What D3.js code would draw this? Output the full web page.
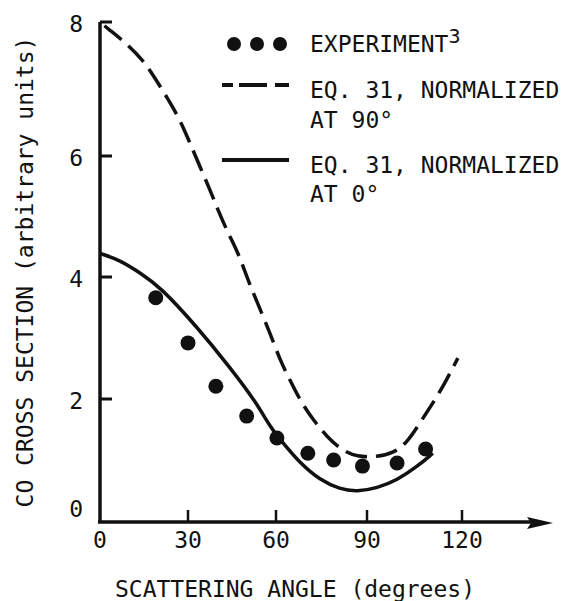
<!DOCTYPE html>
<html>
<head>
<meta charset="utf-8">
<script src="https://cdn.jsdelivr.net/npm/d3@7"></script>
<style>
    body { margin: 0; background: #fff; }
    text { font-family: "DejaVu Sans Mono", monospace; fill: #111; }
</style>
</head>
<body>
<div id="chart"></div>
<script>
// values
const xTicks = [0, 30, 60, 90, 120];
const yTicks = [0, 2, 4, 6, 8];

const experimentAngle = [19, 30, 39.5, 50, 60.3, 70.5, 79, 88.5, 99.5, 108.5];
const experimentValue = [3.66, 2.92, 2.21, 1.72, 1.36, 1.11, 1.0, 0.9, 0.95, 1.18];

// Eq. 31, normalized at 90 degrees
const norm90Angle = [0, 2.4, 8.5, 14.7, 18.8, 22.9, 27.3, 30.7, 34.1, 37.5, 40.2, 43.6, 47.1, 50.1, 51.8,
    58.0, 61.3, 64.6, 67.9, 72.2, 76.8, 81.7, 86.7, 93.2, 98.2, 102.6, 106.7, 110.8, 114.6, 118.7];
const norm90Value = [8.0, 7.91, 7.70, 7.43, 7.16, 6.87, 6.54, 6.19, 5.82, 5.44, 5.11, 4.73, 4.40, 4.0, 3.79,
    3.08, 2.64, 2.31, 1.98, 1.66, 1.38, 1.16, 1.05, 1.05, 1.11, 1.28, 1.61, 1.93, 2.26, 2.67];

// Eq. 31, normalized at 0 degrees
const norm0Angle = [0, 6.8, 13.6, 20.5, 33.1, 44.3, 53.5, 58.0, 62.3, 67.9, 74.5, 81.1, 86.7, 93.2, 99.5, 105.8, 110.8];
const norm0Value = [4.39, 4.28, 4.07, 3.84, 3.18, 2.52, 1.93, 1.54, 1.28, 0.95, 0.67, 0.52, 0.48, 0.54, 0.67, 0.89, 1.11];

const width = 562;
const height = 601;

const svg = d3.select("#chart").append("svg")
    .attr("width", width)
    .attr("height", height);

// the hand-drawn axes are not quite even, so the scales follow the ticks
const x = d3.scaleLinear()
    .domain(xTicks)
    .range([100, 188, 276, 367, 462]);

const y = d3.scaleLinear()
    .domain(yTicks)
    .range([521, 399, 277, 156, 22]);

const ink = "#111";

// axes
svg.append("line")
    .attr("x1", 100).attr("x2", 100)
    .attr("y1", y(8)).attr("y2", 523)
    .attr("stroke", ink).attr("stroke-width", 3.5);

svg.append("line")
    .attr("x1", 98).attr("x2", 535)
    .attr("y1", 522).attr("y2", 522)
    .attr("stroke", ink).attr("stroke-width", 3.5);

svg.append("path")
    .attr("d", "M553,523 L527,517 L531,523 L527,529 Z")
    .attr("fill", ink);

svg.selectAll(".ytick")
    .data(yTicks.filter(d => d > 0))
    .enter()
    .append("line")
    .attr("x1", 100).attr("x2", 112)
    .attr("y1", d => y(d)).attr("y2", d => y(d))
    .attr("stroke", ink).attr("stroke-width", 3);

svg.selectAll(".xtick")
    .data(xTicks.filter(d => d > 0))
    .enter()
    .append("line")
    .attr("x1", d => x(d)).attr("x2", d => x(d))
    .attr("y1", 510).attr("y2", 522)
    .attr("stroke", ink).attr("stroke-width", 2.5);

svg.selectAll(".ylabel")
    .data(yTicks)
    .enter()
    .append("text")
    .attr("x", 83)
    .attr("y", d => Math.min(y(d) + 10, 517))
    .attr("text-anchor", "end")
    .attr("font-size", 23)
    .text(d => d);

svg.selectAll(".xlabel")
    .data(xTicks)
    .enter()
    .append("text")
    .attr("x", d => x(d))
    .attr("y", 548)
    .attr("text-anchor", "middle")
    .attr("font-size", 23)
    .text(d => d);

svg.append("text")
    .attr("x", 295)
    .attr("y", 597)
    .attr("text-anchor", "middle")
    .attr("font-size", 23)
    .text("SCATTERING ANGLE (degrees)");

svg.append("text")
    .attr("transform", "translate(33, 272) rotate(-90)")
    .attr("text-anchor", "middle")
    .attr("font-size", 23)
    .text("CO CROSS SECTION (arbitrary units)");

// curves
const line = d3.line()
    .x(d => x(d[0]))
    .y(d => y(d[1]))
    .curve(d3.curveBasis);

svg.append("path")
    .datum(d3.zip(norm90Angle, norm90Value))
    .attr("fill", "none")
    .attr("stroke", ink)
    .attr("stroke-width", 3.5)
    .attr("stroke-dasharray", "22,9")
    .attr("stroke-dashoffset", -6)
    .attr("d", line);

svg.append("path")
    .datum(d3.zip(norm0Angle, norm0Value))
    .attr("fill", "none")
    .attr("stroke", ink)
    .attr("stroke-width", 3.5)
    .attr("d", line);

svg.selectAll(".dot")
    .data(d3.zip(experimentAngle, experimentValue))
    .enter()
    .append("circle")
    .attr("cx", d => x(d[0]))
    .attr("cy", d => y(d[1]))
    .attr("r", 7.5)
    .attr("fill", ink);

// legend
const legend = svg.append("g");

legend.selectAll(".ldot")
    .data([234, 257, 280])
    .enter()
    .append("circle")
    .attr("cx", d => d)
    .attr("cy", 44)
    .attr("r", 7)
    .attr("fill", ink);

legend.append("line")
    .attr("x1", 222).attr("x2", 289)
    .attr("y1", 85).attr("y2", 85)
    .attr("stroke", ink).attr("stroke-width", 4)
    .attr("stroke-dasharray", "11,6,28,8,14");

legend.append("line")
    .attr("x1", 222).attr("x2", 289)
    .attr("y1", 160).attr("y2", 160)
    .attr("stroke", ink).attr("stroke-width", 4);

const exp = legend.append("text")
    .attr("x", 310).attr("y", 52)
    .attr("font-size", 23);
exp.append("tspan").text("EXPERIMENT");
exp.append("tspan")
    .attr("font-size", 20)
    .attr("dy", -9)
    .text("3");

const legendLines = [
    ["EQ. 31, NORMALIZED", 98],
    ["AT 90°", 128],
    ["EQ. 31, NORMALIZED", 173],
    ["AT 0°", 202]
];

legend.selectAll(".ltext")
    .data(legendLines)
    .enter()
    .append("text")
    .attr("x", 310)
    .attr("y", d => d[1])
    .attr("font-size", 23)
    .text(d => d[0]);
</script>
</body>
</html>
